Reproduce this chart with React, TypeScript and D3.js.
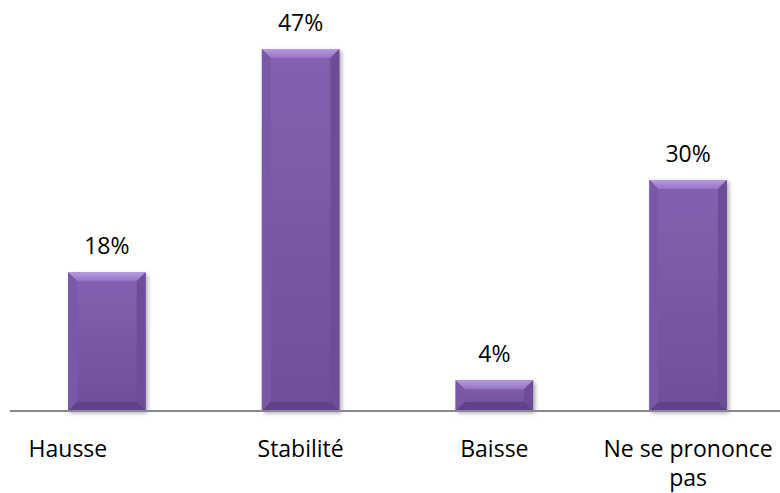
import React from "react";
import * as d3 from "d3";

const categories = ["Hausse", "Stabilité", "Baisse", "Ne se prononce pas"];
const values = [18, 47, 4, 30];
const labelLines = [["Hausse"], ["Stabilité"], ["Baisse"], ["Ne se prononce", "pas"]];

const W = 780;
const H = 493;
const baseY = 411;

export default function App() {
  const x = d3.scaleBand<string>().domain(categories).range([10, 785]).paddingInner(0.6).paddingOuter(0.3);
  const y = d3.scaleLinear().domain([0, 47]).range([baseY, 49]);
  const bw = x.bandwidth();
  const bev = 9;
  // the first category label sits left of its bar in the reference
  const labelShift = (i: number) => (i === 0 ? -39 : 0);
  return (
    <svg width={W} height={H} style={{ position: "absolute", left: 0, top: 0 }} fontFamily="'Open Sans', Lato, sans-serif">
      <defs>
        <linearGradient id="body" x1="0" y1="0" x2="0" y2="1">
          <stop offset="0" stopColor="#8462b0" />
          <stop offset="1" stopColor="#6f4f98" />
        </linearGradient>
        <linearGradient id="topb" x1="0" y1="0" x2="0" y2="1">
          <stop offset="0" stopColor="#b79ae0" />
          <stop offset="1" stopColor="#9474c2" />
        </linearGradient>
        <filter id="sh" x="-20%" y="-20%" width="140%" height="140%">
          <feDropShadow dx="2" dy="2" stdDeviation="2" floodColor="#000" floodOpacity="0.35" />
        </filter>
      </defs>
      {categories.map((c, i) => {
        const x0 = x(c)!;
        const y0 = y(values[i]);
        const x1 = x0 + bw;
        const y1 = baseY;
        const h = y1 - y0;
        const b = Math.min(bev, h / 2);
        return (
          <g key={c}>
            <rect x={x0} y={y0} width={bw} height={h} fill="url(#body)" filter="url(#sh)" />
            <polygon points={`${x0},${y0} ${x1},${y0} ${x1 - b},${y0 + b} ${x0 + b},${y0 + b}`} fill="url(#topb)" />
            <polygon points={`${x0},${y0} ${x0 + b},${y0 + b} ${x0 + b},${y1 - b} ${x0},${y1}`} fill="#7a58a8" />
            <polygon points={`${x1},${y0} ${x1 - b},${y0 + b} ${x1 - b},${y1 - b} ${x1},${y1}`} fill="#6d4d98" />
            <polygon points={`${x0},${y1} ${x0 + b},${y1 - b} ${x1 - b},${y1 - b} ${x1},${y1}`} fill="#5f4288" />
            <text x={x0 + bw / 2} y={y0 - 18} textAnchor="middle" fontSize={23} fill="#000">
              {values[i]}%
            </text>
          </g>
        );
      })}
      <line x1={10} x2={780} y1={baseY} y2={baseY} stroke="#888" strokeWidth={2} />
      {categories.map((c, i) => {
        const cx = x(c)! + bw / 2 + labelShift(i);
        return (
          <text key={c} x={cx} textAnchor="middle" fontSize={23} fill="#000">
            {labelLines[i].map((l, j) => (
              <tspan key={j} x={cx} y={457 + j * 29}>
                {l}
              </tspan>
            ))}
          </text>
        );
      })}
    </svg>
  );
}
